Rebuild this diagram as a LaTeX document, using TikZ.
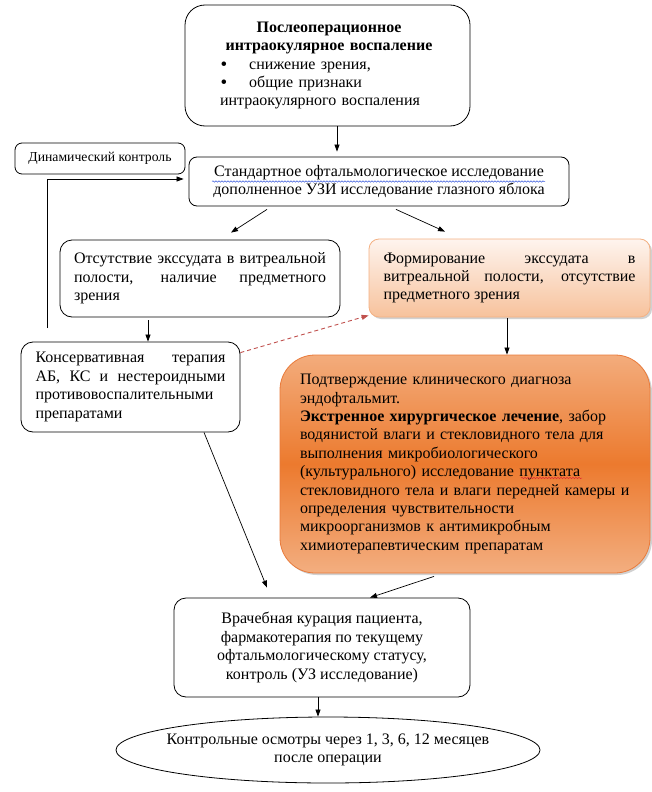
\documentclass[tikz,border=0pt]{standalone}
\usepackage{fontspec}
\setmainfont{Liberation Serif}
\usetikzlibrary{arrows.meta,shapes.geometric,shadows,calc,decorations.pathmorphing}
\definecolor{dashred}{HTML}{C0504D}
\definecolor{lightbord}{HTML}{F4B183}
\definecolor{lighttop}{HTML}{FEF4EE}
\definecolor{lightbot}{HTML}{F7C29C}
\definecolor{darkbord}{HTML}{E97A3A}
\definecolor{darktop}{HTML}{F3AC7C}
\definecolor{darkmid}{HTML}{EC7A2E}
\definecolor{darkbot}{HTML}{F3AE80}
\definecolor{wavyblue}{HTML}{3B5BDB}
\definecolor{wavyred}{HTML}{E03030}
\begin{document}
\begin{tikzpicture}[x=1pt,y=-1pt,
  every node/.style={font=\fontsize{16}{18.4}\selectfont, inner sep=0pt},
  box/.style={draw, line width=0.8pt, rounded corners=#1},
  box/.default=12pt,
  arr/.style={-{Triangle[length=7pt,width=5pt]}, line width=0.7pt},
  shad/.style={drop shadow={shadow xshift=2pt, shadow yshift=-2pt, opacity=0.3, fill=black!60}},
  wavy/.style={decorate, decoration={snake, amplitude=0.7pt, segment length=3pt}, line width=0.5pt}]
\useasboundingbox (0,0) rectangle (652,792);

\newcommand{\bigbul}{\raisebox{-1pt}[0pt][0pt]{\fontsize{19}{16}\selectfont\textbullet}}
\node[box=20pt, minimum width=285pt, minimum height=121pt, text width=250pt, align=left] (top) at (327.5,65.5)
 {\makebox[253pt][c]{\bfseries Послеоперационное}\\
  \makebox[253pt][c]{\bfseries интраокулярное воспаление}\\
  \hspace*{18pt}\bigbul\hspace*{22pt}снижение зрения,\\
  \hspace*{18pt}\bigbul\hspace*{22pt}общие признаки\\
  \hspace*{17.5pt}интраокулярного воспаления};

\node[box=7pt, minimum width=170pt, minimum height=31pt, font=\fontsize{13.7}{15}\selectfont] (dyn) at (100,158.5) {Динамический контроль};

\node[box=8pt, minimum width=380pt, minimum height=49pt, align=center] (std) at (379,181.5)
 {Стандартное офтальмологическое исследование\\дополненное УЗИ исследование глазного яблока};

\node[box=12pt, minimum width=280pt, minimum height=77pt, text width=252pt, align=justify] (left) at (200,278.5)
 {Отсутствие экссудата в витреальной\linebreak полости, наличие предметного\linebreak зрения};

\node[box=10pt, draw=lightbord, top color=lighttop, bottom color=lightbot, shad, minimum width=281pt, minimum height=78pt, text width=252pt, align=justify] (right) at (509.5,278)
 {Формирование экссудата в\linebreak витреальной полости, отсутствие\linebreak предметного зрения};

\node[box=12pt, minimum width=219pt, minimum height=90pt, text width=190pt, align=justify] (cons) at (130.5,387)
 {Консервативная терапия\linebreak АБ, КС и нестероидными\linebreak противовоспалительными\\препаратами};

\node[box=35pt, draw=darkbord, top color=darktop, bottom color=darkbot, middle color=darkmid, shad, minimum width=370pt, minimum height=218pt, text width=330pt, align=left] (big) at (465,464)
 {Подтверждение клинического диагноза\\
  эндофтальмит.\\
  \textbf{Экстренное хирургическое лечение}, забор\\
  водянистой влаги и стекловидного тела для\\
  выполнения микробиологического\\
  (культурального) исследование пунктата\\
  стекловидного тела и влаги передней камеры и\\
  определения чувствительности\\
  микроорганизмов к антимикробным\\
  химиотерапевтическим препаратам};

\node[box=12pt, minimum width=296pt, minimum height=99pt, align=center] (vr) at (322,647.5)
 {Врачебная курация пациента,\\фармакотерапия по текущему\\офтальмологическому статусу,\\контроль (УЗ исследование)};

\node[draw, line width=0.8pt, ellipse, inner xsep=-30pt, minimum width=424pt, minimum height=66pt, align=center] (ell) at (328,750)
 {Контрольные осмотры через 1, 3, 6, 12 месяцев\\после операции};

% spell-check underlines
\draw[wavy, wavyblue] ([xshift=-167pt,yshift=0pt]std.center) -- ([xshift=166pt,yshift=0pt]std.center);
\draw[wavy, wavyred] ([xshift=56pt,yshift=-14pt]big.center) -- ([xshift=117pt,yshift=-14pt]big.center);

% connectors
\coordinate (ta) at ([xshift=9.5pt]top.south);
\draw[arr, shorten >=5pt] (ta) -- (ta |- std.north);

\draw[arr] ([xshift=-112pt,yshift=-3pt]std.south) -- ([xshift=31pt,yshift=7pt]left.north);
\draw[arr] ([xshift=17pt,yshift=-3pt]std.south) -- ([xshift=-64.5pt,yshift=7pt]right.north);

\coordinate (la) at ([xshift=-52pt,yshift=-3pt]left.south);
\draw[arr] (la) -- (la |- cons.north);

\coordinate (ra) at ([xshift=-2.5pt,yshift=-1pt]right.south);
\draw[arr] (ra) -- (ra |- big.north);

\draw[arr, dashred, line width=0.9pt, dash pattern=on 4pt off 3pt] ([yshift=-11pt]cons.north east) -- ([yshift=2pt]right.south west);

\coordinate (fb) at (47,328);
\draw[arr] (fb) |- ([xshift=-5pt,yshift=2.5pt]std.west);

\draw[arr] ([xshift=73.5pt]cons.south) -- ([xshift=-55pt,yshift=10pt]vr.north);
\draw[arr] ([xshift=-31pt,yshift=-3pt]big.south) -- ([xshift=48pt]vr.north);

\coordinate (va) at ([xshift=-4pt]vr.south);
\draw[arr] (va) -- (va |- ell.north);
\end{tikzpicture}
\end{document}
